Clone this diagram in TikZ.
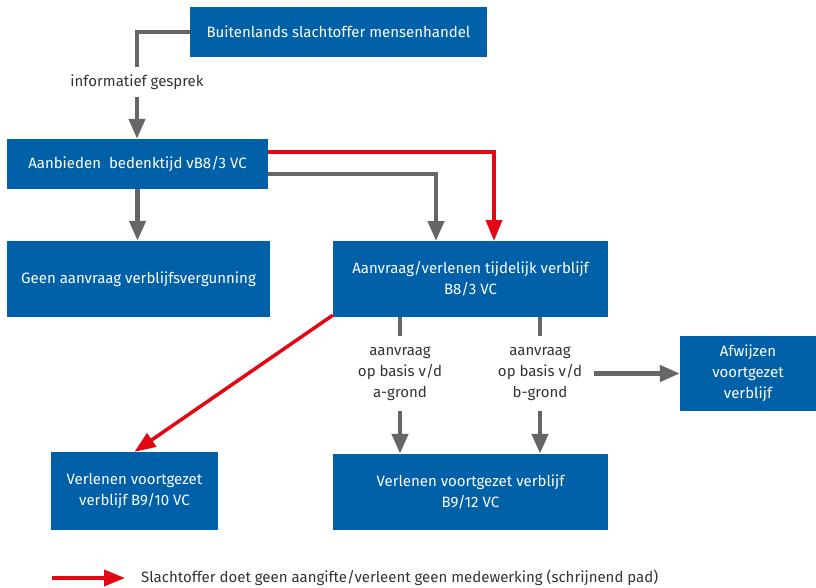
\documentclass[tikz,border=0pt]{standalone}
\usepackage{fontspec}
\setmainfont{Fira Sans}
\usetikzlibrary{arrows.meta}

\definecolor{rijksblauw}{RGB}{0,96,168}
\definecolor{pijlgrijs}{RGB}{102,102,102}
\definecolor{pijlrood}{RGB}{227,6,19}
\definecolor{tekstgrijs}{RGB}{51,51,51}

\tikzset{
    blok/.style={fill=rijksblauw, text=white, align=center, inner sep=0pt,
        font=\fontsize{15}{21}\selectfont},
    label/.style={text=tekstgrijs, align=center, inner sep=0pt,
        font=\fontsize{15}{21}\selectfont},
    grijs/.style={draw=pijlgrijs, line width=4.5pt},
    grijspijl/.style={grijs, -{Triangle[length=20pt,width=16pt]}},
    roodpijl/.style={draw=pijlrood, line width=3.5pt, -{Triangle[length=21pt,width=16pt]}}
}

\begin{document}
\begin{tikzpicture}[x=1pt, y=-1pt]

            % the frame
            \useasboundingbox (0, 0) rectangle (816, 588);

            % the boxes
            \node[blok, minimum width=297pt, minimum height=50pt] (buitenlands) at (338.5, 32) {Buitenlands slachtoffer mensenhandel};
            \node[blok, minimum width=261pt, minimum height=50pt] (aanbieden) at (137.5, 164) {Aanbieden\ \ bedenktijd vB8/3 VC};
            \node[blok, minimum width=263pt, minimum height=76pt] (geen) at (138.5, 279) {Geen aanvraag verblijfsvergunning};
            \node[blok, minimum width=275pt, minimum height=76pt] (aanvraag) at (470.5, 279) {Aanvraag/verlenen tijdelijk verblijf\\B8/3 VC};
            \node[blok, minimum width=167pt, minimum height=78pt] (verlenena) at (134.5, 491) {Verlenen voortgezet\\verblijf B9/10 VC};
            \node[blok, minimum width=275pt, minimum height=76pt] (verlenenb) at (470.5, 492) {Verlenen voortgezet verblijf\\B9/12 VC};
            \node[blok, minimum width=136pt, minimum height=75pt] (afwijzen) at (748, 373.5) {Afwijzen\\voortgezet\\verblijf};

            % informatief gesprek
            \node[label, minimum height=30pt] (gesprek) at (137, 82) {informatief gesprek};
            \draw[grijs] (buitenlands.west) -| (gesprek.north);
            \draw[grijspijl] (gesprek.south) -- (gesprek.south |- aanbieden.north);

            % from the bedenktijd
            \coordinate (grijsin) at (436, 241);
            \coordinate (roodin) at (494, 241);
            \draw[grijspijl] (aanbieden.south) -- (aanbieden.south |- geen.north);
            \draw[grijspijl] ([yshift=-10pt]aanbieden.east) -| (grijsin);
            \draw[roodpijl] ([yshift=12pt]aanbieden.east) -| (roodin);

            % a- and b-grond
            \foreach \g/\x in {a/400, b/540} {
                \node[label, minimum height=75pt] (grond\g) at (\x, 373.5) {aanvraag\\op basis v/d\\\g-grond};
                \draw[grijs] (aanvraag.south -| grond\g.north) -- (grond\g.north);
                \draw[grijspijl] (grond\g.south) -- (grond\g.south |- verlenenb.north);
            };
            \draw[grijspijl, shorten <=12pt] (grondb.east) -- (afwijzen.west);

            % schrijnend pad
            \draw[roodpijl] ([yshift=2pt]aanvraag.south west) -- (verlenena.north);

            % legend
            \coordinate (legenda) at (52, 578);
            \node[label, anchor=west] (legendatekst) at (141, 578) {Slachtoffer doet geen aangifte/verleent geen medewerking (schrijnend pad)};
            \draw[roodpijl, shorten >=16pt] (legenda) -- (legendatekst.west);

        \end{tikzpicture}
\end{document}
